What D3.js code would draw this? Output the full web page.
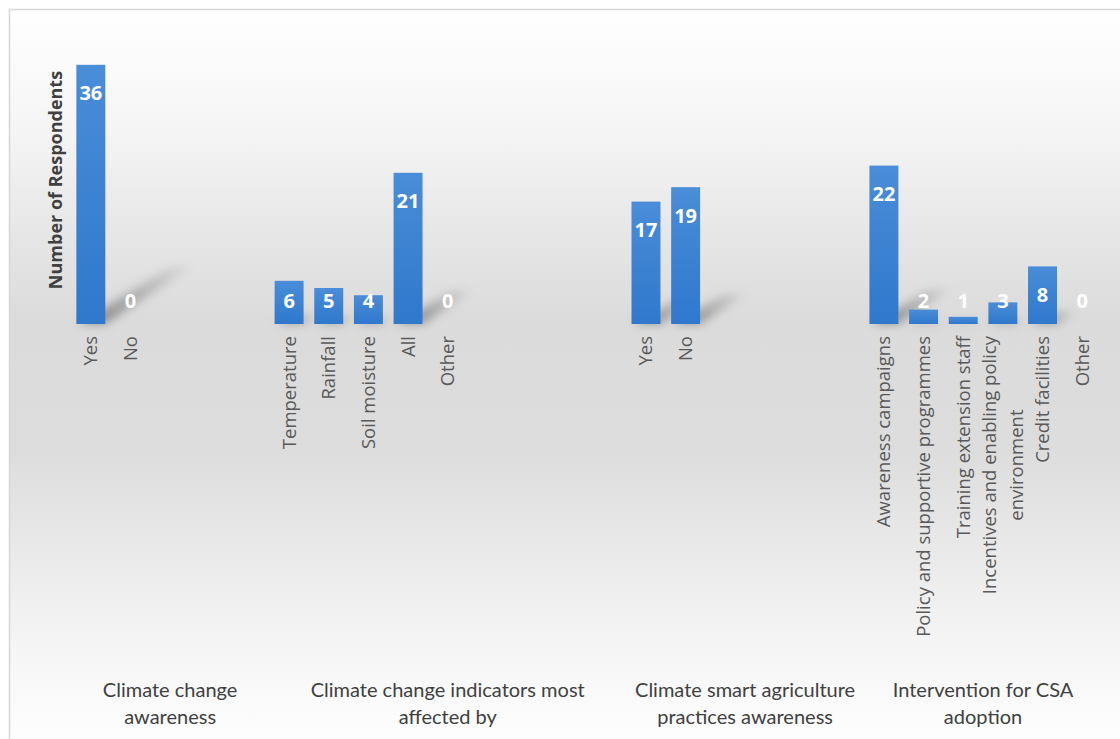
<!DOCTYPE html>
<html>
<head>
<meta charset="utf-8">
<script src="https://cdn.jsdelivr.net/npm/d3@7"></script>
<style>
	html, body { margin: 0; padding: 0; background: #ffffff; }
	svg { display: block; }
</style>
</head>
<body>
<svg id="chart" width="1120" height="739"></svg>
<script>
// multi-level category axis: empty strings are blank categories, like the source sheet
const groupNames = [
	["Climate change", "awareness"],
	["Climate change indicators  most", "affected by"],
	["Climate smart agriculture", "practices awareness"],
	["Intervention for CSA", "adoption"]
];
const awarenessCats = ["Yes", "No", "", "", ""];
const awarenessVals = [36, 0, null, null, null];
const indicatorCats = ["Temperature", "Rainfall", "Soil moisture", "All", "Other", "", "", "", ""];
const indicatorVals = [6, 5, 4, 21, 0, null, null, null, null];
const csaCats = ["Yes", "No", "", "", "", ""];
const csaVals = [17, 19, null, null, null, null];
const interventionCats = ["Awareness campaigns", "Policy and supportive programmes", "Training extension staff",
	"Incentives and enabling policy\nenvironment", "Credit facilities", "Other"];
const interventionVals = [22, 2, 1, 3, 8, 0];
const yTitle = "Number of Respondents";
const yMax = 40;

const groupCats = [awarenessCats, indicatorCats, csaCats, interventionCats];
const groupVals = [awarenessVals, indicatorVals, csaVals, interventionVals];

let rows = [];
groupCats.forEach(function(cats, g) {
	cats.forEach(function(c, i) {
		rows.push({ key: g + "-" + i, group: g, label: c, value: groupVals[g][i] });
	});
});

const svg = d3.select("#chart");
const width = 1120, height = 739;
const base = 324;
const sansFont = "'Open Sans', 'DejaVu Sans', sans-serif";

const x = d3.scaleBand()
	.domain(rows.map(d => d.key))
	.range([71, 1102])
	.paddingInner(0.27)
	.paddingOuter(0.135);
const y = d3.scaleLinear().domain([0, yMax]).range([base, 36]);

let defs = svg.append("defs");

let bg = defs.append("linearGradient").attr("id", "bg")
	.attr("x1", 0).attr("y1", 0).attr("x2", 0).attr("y2", 1);
[[0, "#ffffff"], [0.15, "#f6f6f6"], [0.42, "#dbdbdb"], [0.6, "#dddddd"], [0.85, "#f4f4f4"], [1, "#ffffff"]]
	.forEach(s => bg.append("stop").attr("offset", s[0]).attr("stop-color", s[1]));

let barGrad = defs.append("linearGradient").attr("id", "bar")
	.attr("x1", 0).attr("y1", 0).attr("x2", 0).attr("y2", 1);
barGrad.append("stop").attr("offset", 0).attr("stop-color", "#4a8dd8");
barGrad.append("stop").attr("offset", 1).attr("stop-color", "#2f78cc");

let shGrad = defs.append("linearGradient").attr("id", "shade")
	.attr("x1", 0).attr("y1", 1).attr("x2", 1).attr("y2", 0);
shGrad.append("stop").attr("offset", 0).attr("stop-color", "#000").attr("stop-opacity", 0.4);
shGrad.append("stop").attr("offset", 1).attr("stop-color", "#000").attr("stop-opacity", 0.04);

defs.append("filter").attr("id", "blur")
	.attr("x", "-50%").attr("y", "-50%").attr("width", "200%").attr("height", "200%")
	.append("feGaussianBlur").attr("stdDeviation", 5);

// chart area background and frame
svg.append("rect").attr("x", 9).attr("y", 9).attr("width", width).attr("height", height)
	.attr("fill", "url(#bg)");
svg.append("path")
	.attr("d", "M9.5," + height + "V9.5H" + width)
	.attr("fill", "none").attr("stroke", "#d6d6d6").attr("stroke-width", 1.5);

let bars = rows.filter(d => d.value !== null);

// perspective shadows, cast up and to the right
svg.append("g").attr("filter", "url(#blur)")
	.selectAll("path")
	.data(bars.filter(d => d.value > 0))
	.enter()
	.append("path")
	.attr("d", function(d) {
		let x0 = x(d.key) + 2, x1 = x(d.key) + x.bandwidth();
		let dx = d.value * 2.4, dy = -d.value * 1.6;
		return "M" + x0 + "," + base + "L" + x1 + "," + base +
			"L" + (x1 + dx) + "," + (base + dy) + "L" + (x0 + dx + 6) + "," + (base + dy) + "Z";
	})
	.attr("fill", "url(#shade)");

svg.append("g")
	.selectAll("rect")
	.data(bars)
	.enter()
	.append("rect")
	.attr("x", d => x(d.key))
	.attr("y", d => y(d.value))
	.attr("width", x.bandwidth())
	.attr("height", d => base - y(d.value))
	.attr("fill", "url(#bar)");

svg.append("g")
	.selectAll("text")
	.data(bars)
	.enter()
	.append("text")
	.attr("x", d => x(d.key) + x.bandwidth() / 2)
	.attr("y", d => Math.min(y(d.value) + 28, base - 24))
	.attr("text-anchor", "middle")
	.attr("dominant-baseline", "central")
	.attr("font-family", sansFont)
	.attr("font-weight", "bold")
	.attr("font-size", 20)
	.attr("fill", "#ffffff")
	.text(d => d.value);

// rotated category labels
let catLabels = svg.append("g")
	.selectAll("text")
	.data(rows.filter(d => d.label !== ""))
	.enter()
	.append("text")
	.attr("font-family", sansFont)
	.attr("font-size", 18.5)
	.attr("fill", "#595959")
	.attr("text-anchor", "middle");

catLabels.each(function(d) {
	let t = d3.select(this);
	let lines = d.label.split("\n");
	lines.forEach(function(l) { t.append("tspan").text(l); });
	let maxLen = 0;
	t.selectAll("tspan").each(function() { maxLen = Math.max(maxLen, this.getComputedTextLength()); });
	let cx = x(d.key) + x.bandwidth() / 2;
	let cy = 336 + maxLen / 2;
	let lh = 27;
	t.attr("transform", "translate(" + cx + "," + cy + ") rotate(-90)");
	t.selectAll("tspan")
		.attr("x", 0)
		.attr("y", (l, i) => (i - (lines.length - 1) / 2) * lh)
		.attr("dy", "0.35em");
});

// group labels
let groupCenters = groupCats.map(function(cats, g) {
	let keys = rows.filter(d => d.group === g).map(d => d.key);
	return (x(keys[0]) + x(keys[keys.length - 1]) + x.bandwidth()) / 2;
});

svg.append("g")
	.selectAll("text")
	.data(groupNames)
	.enter()
	.append("text")
	.attr("font-family", "Lato, sans-serif")
	.attr("font-size", 20)
	.attr("fill", "#404040")
	.attr("text-anchor", "middle")
	.each(function(lines, g) {
		d3.select(this).selectAll("tspan")
			.data(lines)
			.enter()
			.append("tspan")
			.attr("x", groupCenters[g])
			.attr("y", (l, i) => 697 + i * 27)
			.text(l => l);
	});

svg.append("text")
	.attr("transform", "translate(62," + 180 + ") rotate(-90)")
	.attr("text-anchor", "middle")
	.attr("font-family", sansFont)
	.attr("font-weight", "bold")
	.attr("font-size", 18)
	.attr("fill", "#404040")
	.text(yTitle);
</script>
</body>
</html>
